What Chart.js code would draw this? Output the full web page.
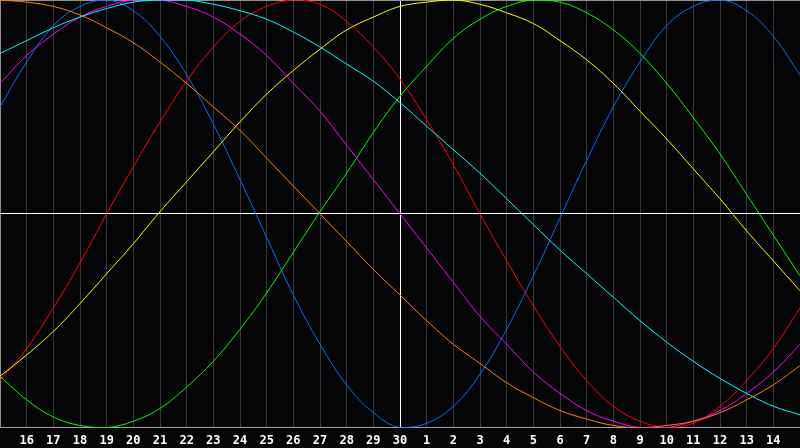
<!DOCTYPE html>
<html>
<head>
<meta charset="utf-8">
<script src="https://cdn.jsdelivr.net/npm/chart.js@4/dist/chart.umd.min.js"></script>
<style>
  html, body { margin: 0; padding: 0; background: #050508; }
  canvas { display: block; }
</style>
</head>
<body>
<canvas id="bioChart" width="800" height="448"></canvas>
<script>
// Day labels along the bottom (first and last are the chart edges, not printed)
const dayLabels = ['15', '16', '17', '18', '19', '20', '21', '22', '23', '24', '25', '26', '27', '28', '29', '30',
  '1', '2', '3', '4', '5', '6', '7', '8', '9', '10', '11', '12', '13', '14', '15'];
const todayIndex = 15;

// Cycle values in percent, one per day
const physical = [50, 71, 88, 97, 100, 95, 83, 65, 42, 16, -11, -38, -61, -80, -93, -100,
  -98, -90, -75, -54, -29, -2, 25, 50, 71, 88, 97, 100, 95, 83, 65];
const emotional = [-78, -63, -44, -23, 0, 22, 43, 62, 78, 90, 97, 100, 98, 90, 78, 63,
  44, 23, 0, -22, -43, -62, -78, -90, -97, -100, -98, -90, -78, -63, -44];
const intellectual = [-76, -87, -95, -99, -100, -97, -91, -81, -69, -54, -37, -18, 1, 19, 38, 55,
  69, 82, 91, 97, 100, 99, 94, 86, 75, 61, 45, 28, 9, -10, -29];
const aesthetic = [-76, -66, -55, -42, -28, -14, 1, 15, 29, 43, 56, 67, 77, 86, 92, 97,
  99, 100, 98, 94, 89, 81, 72, 61, 48, 35, 21, 7, -8, -22, -36];
const intuitive = [61, 74, 84, 92, 97, 100, 100, 97, 92, 84, 74, 61, 48, 32, 16, 0,
  -16, -32, -48, -61, -74, -84, -92, -97, -100, -100, -97, -92, -84, -74, -61];
const spiritual = [75, 81, 87, 92, 96, 99, 100, 100, 98, 95, 91, 85, 78, 70, 62, 52,
  41, 30, 19, 7, -5, -17, -28, -39, -50, -60, -69, -77, -84, -90, -94];
const awareness = [100, 99, 97, 93, 87, 80, 71, 61, 50, 39, 26, 13, 0, -13, -26, -38,
  -50, -61, -70, -79, -86, -92, -96, -99, -100, -99, -97, -93, -87, -80, -71];

function line(data, color) {
  return {
    data: data,
    borderColor: color,
    borderWidth: 1,
    pointRadius: 0,
    tension: 0.4,
    fill: false
  };
}

document.addEventListener('DOMContentLoaded', function() {
  const ctx = document.getElementById('bioChart').getContext('2d');

  new Chart(ctx, {
    type: 'line',
    data: {
      labels: dayLabels,
      datasets: [
        line(awareness, '#ff8000'),
        line(spiritual, '#00ffff'),
        line(intuitive, '#ff00ff'),
        line(aesthetic, '#ffff00'),
        line(intellectual, '#00ff00'),
        line(emotional, '#ff0000'),
        line(physical, '#0a6cff')
      ]
    },
    options: {
      responsive: false,
      animation: false,
      layout: { padding: 0 },
      plugins: {
        legend: { display: false },
        tooltip: { enabled: false }
      },
      scales: {
        x: {
          offset: false,
          border: { display: true, color: '#a0a0a0' },
          grid: {
            drawTicks: true,
            tickLength: 6,
            tickColor: 'transparent',
            color: function(c) {
              if (c.index === todayIndex) return '#ffffff';
              if (c.index === 0) return '#909090';
              return '#3a3a3a';
            }
          },
          ticks: {
            autoSkip: false,
            maxRotation: 0,
            padding: 0,
            color: '#ffffff',
            font: { family: 'DejaVu Sans Mono', size: 12, weight: 'bold' },
            callback: function(value, index) {
              if (index === 0 || index === dayLabels.length - 1) return '';
              return dayLabels[index];
            }
          }
        },
        y: {
          min: -100,
          max: 100,
          border: { display: false },
          grid: {
            drawTicks: false,
            color: function(c) {
              if (c.tick.value === 0) return '#ffffff';
              return '#909090';
            }
          },
          ticks: { display: false, stepSize: 100 }
        }
      }
    }
  });
});
</script>
</body>
</html>
